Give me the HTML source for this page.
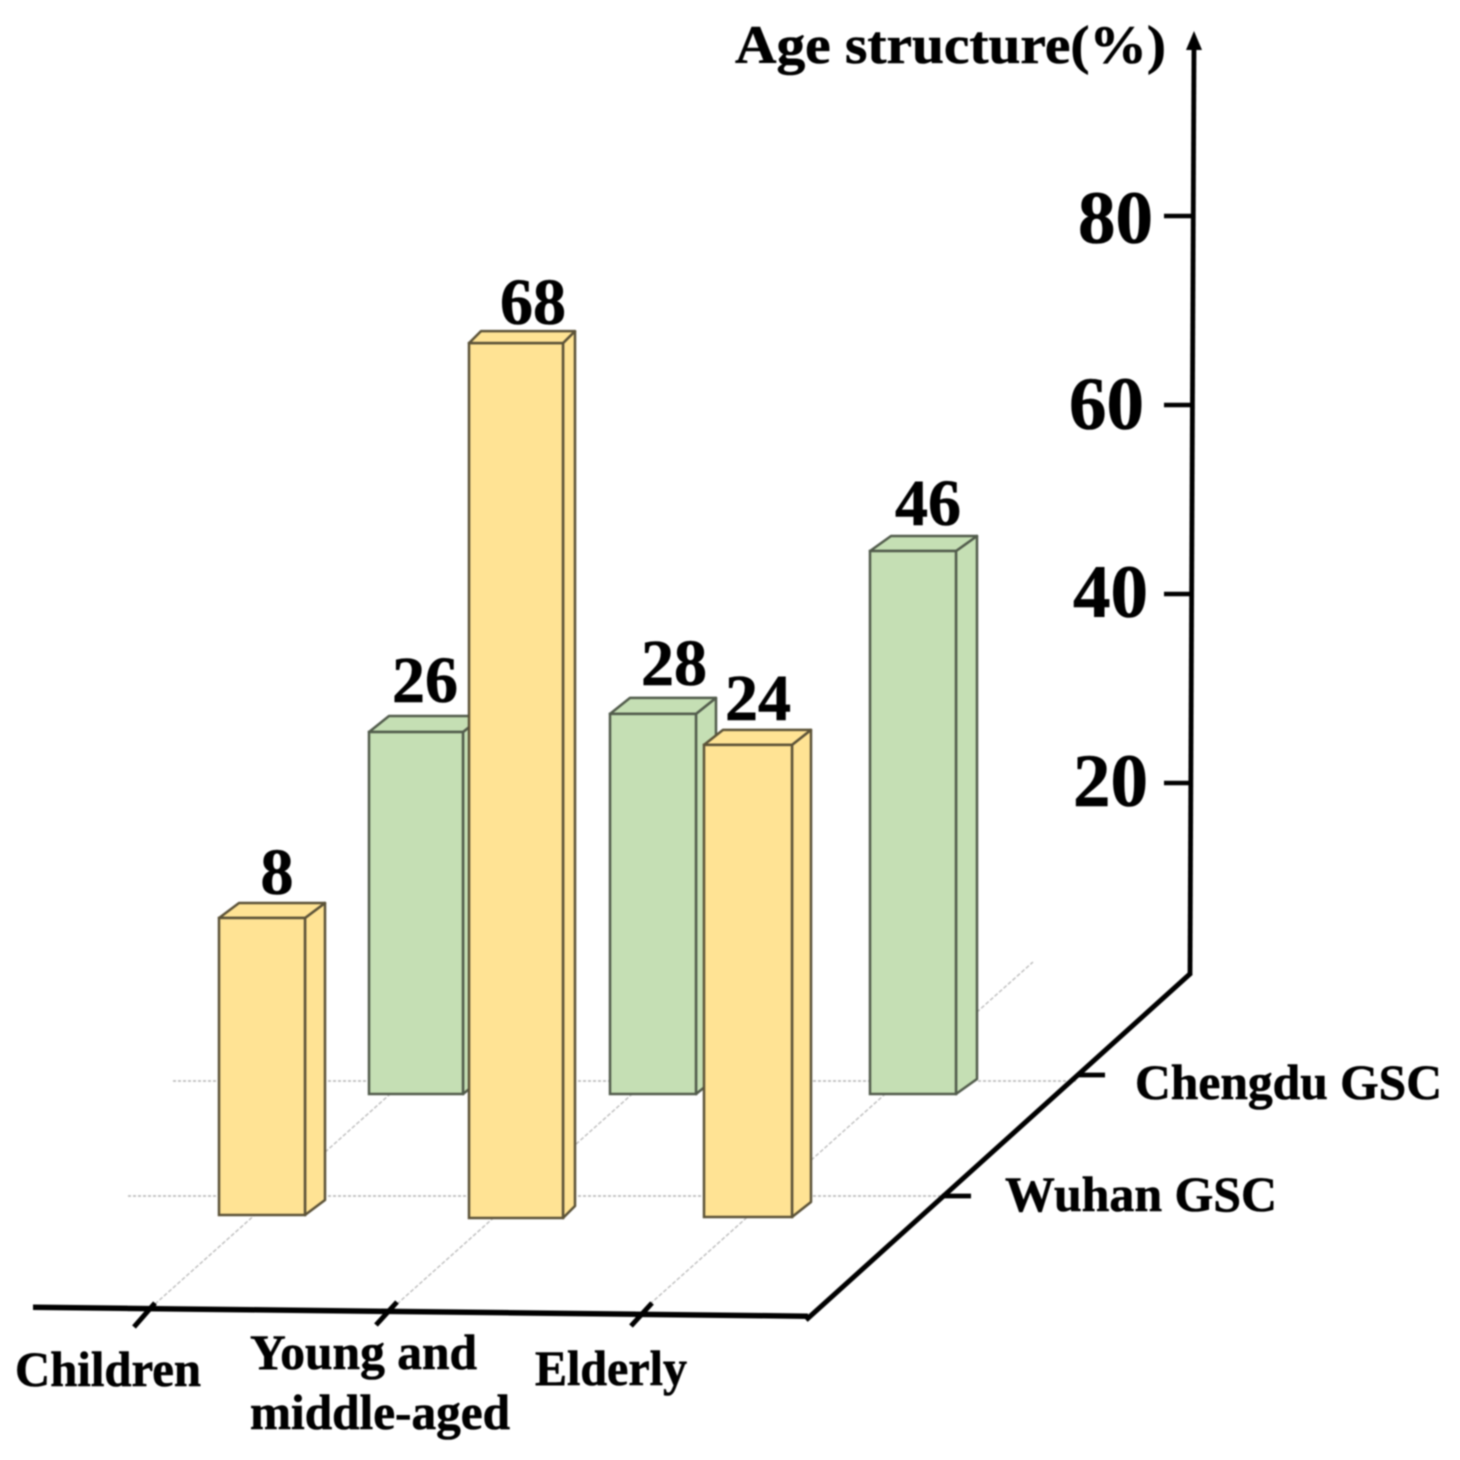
<!DOCTYPE html>
<html>
<head>
<meta charset="utf-8">
<title>Age structure chart</title>
<style>
html,body{margin:0;padding:0;background:#fff;width:1460px;height:1460px;overflow:hidden}
svg{display:block;filter:blur(0.7px)}
text{font-family:"Liberation Serif",serif;font-weight:bold;fill:#000;stroke:#000;stroke-width:0.6px}
</style>
</head>
<body>
<svg id="chart" xmlns="http://www.w3.org/2000/svg" width="1460" height="1460" viewBox="0 0 1460 1460">
  <rect x="0" y="0" width="1460" height="1460" fill="#fff"/>
  <g id="grid"></g>
  <g id="bars"></g>
  <g id="axes">
    <path d="M33 1304.5 L808 1313.5 L808 1319 L33 1310 Z" fill="#000"/>
    <line x1="806" y1="1320" x2="1191" y2="973" stroke="#000" stroke-width="5"/>
    <line x1="1190" y1="975" x2="1194" y2="42" stroke="#000" stroke-width="4.8"/>
    <path d="M1194 31 L1202 50 L1186 50 Z" fill="#000"/>
    <text x="735" y="63" font-size="54" textLength="431" lengthAdjust="spacingAndGlyphs">Age structure(%)</text>
    <line x1="1078" y1="1075" x2="1105" y2="1075" stroke="#000" stroke-width="4.8"/>
    <line x1="942" y1="1196" x2="971" y2="1196" stroke="#000" stroke-width="4.8"/>
    <text x="1135" y="1099" font-size="50" textLength="307" lengthAdjust="spacingAndGlyphs">Chengdu GSC</text>
    <text x="1005" y="1211" font-size="50" textLength="272" lengthAdjust="spacingAndGlyphs">Wuhan GSC</text>
    <line x1="134" y1="1327" x2="155" y2="1303" stroke="#000" stroke-width="5"/>
    <line x1="376" y1="1325" x2="397" y2="1302" stroke="#000" stroke-width="5"/>
    <line x1="631" y1="1326" x2="652" y2="1303" stroke="#000" stroke-width="5"/>
    <text x="15" y="1386" font-size="50" textLength="186" lengthAdjust="spacingAndGlyphs">Children</text>
    <text x="250" y="1369" font-size="50" textLength="227" lengthAdjust="spacingAndGlyphs">Young and</text>
    <text x="250" y="1429" font-size="50" textLength="260" lengthAdjust="spacingAndGlyphs">middle-aged</text>
    <text x="535" y="1385" font-size="50" textLength="152" lengthAdjust="spacingAndGlyphs">Elderly</text>
  </g>
</svg>
<script>
const categories = ['Children', 'Young and middle-aged', 'Elderly'];
const seriesNames = ['Chengdu GSC', 'Wuhan GSC'];
const chengduValues = [26, 28, 46];
const wuhanValues = [8, 68, 24];
const valueTicks = [20, 40, 60, 80];

const NS = 'http://www.w3.org/2000/svg';
const gridLayer = document.getElementById('grid');
const barLayer = document.getElementById('bars');
const axisLayer = document.getElementById('axes');

function make(tag, attrs, parent) {
  const el = document.createElementNS(NS, tag);
  for (const k in attrs) el.setAttribute(k, attrs[k]);
  parent.appendChild(el);
  return el;
}

/* value axis: 0 at the back corner, 9.45 px per percentage point */
function axisY(v) { return 972 - v * 9.45; }
function axisX(v) { return 1190 + (972 - axisY(v)) * 0.0043; }

/* bar heights on the receding floor planes */
function barHeight(seriesIndex, catIndex, v) {
  if (seriesIndex === 0) return 126.7 + 9.05 * v;
  return 220 + 9.63 * v + (catIndex === 2 ? 21 : 0);
}

/* placement of each bar on the floor */
function barPlacement(seriesIndex, catIndex) {
  if (seriesIndex === 0) {
    if (catIndex === 0) return {x: 369, w: 94, dx: 20, dy: 16, base: 1094, lx: 425, ly: 30};
    if (catIndex === 1) return {x: 610, w: 86, dx: 20, dy: 16, base: 1094, lx: 674, ly: 29};
    return {x: 870, w: 86, dx: 21, dy: 15, base: 1094, lx: 928, ly: 26};
  }
  if (catIndex === 0) return {x: 219, w: 86, dx: 20, dy: 15, base: 1215, lx: 277, ly: 24};
  if (catIndex === 1) return {x: 469, w: 94, dx: 12, dy: 12, base: 1218, lx: 533, ly: 19};
  return {x: 704, w: 88, dx: 19, dy: 15, base: 1217, lx: 758, ly: 25};
}

function drawBar(seriesIndex, catIndex, v) {
  const p = barPlacement(seriesIndex, catIndex);
  const fill = seriesIndex === 0 ? '#C5DFB4' : '#FFE394';
  const stroke = seriesIndex === 0 ? '#525c4c' : '#5c5338';
  const top = p.base - barHeight(seriesIndex, catIndex, v);
  const r = p.x + p.w;

  const g = make('g', {}, barLayer);
  
  

  const side = make('path', {
    d: `M${r} ${top} L${r + p.dx} ${top - p.dy} L${r + p.dx} ${p.base - p.dy} L${r} ${p.base} Z`,
    fill: fill, stroke: stroke, 'stroke-width': 2.5, 'stroke-linejoin': 'round'
  }, g);
  
  

  const cap = make('path', {
    d: `M${p.x} ${top} L${p.x + p.dx} ${top - p.dy} L${r + p.dx} ${top - p.dy} L${r} ${top} Z`,
    fill: fill, stroke: stroke, 'stroke-width': 2.5, 'stroke-linejoin': 'round'
  }, g);
  
  

  const front = make('rect', {
    x: p.x, y: top, width: p.w, height: p.base - top,
    fill: fill, stroke: stroke, 'stroke-width': 2.5
  }, g);
  
  
}

function drawBarLabel(seriesIndex, catIndex, v) {
  const p = barPlacement(seriesIndex, catIndex);
  const top = p.base - barHeight(seriesIndex, catIndex, v);
  const t = make('text', {x: p.lx, y: top - p.ly, 'font-size': 66, 'text-anchor': 'middle'}, barLayer);
  t.textContent = String(v);
  
  
}

/* floor grid */
const gridStyle = {stroke: '#b4b4b4', 'stroke-width': 1.6, 'stroke-dasharray': '3 2'};
const rowBack = make('line', Object.assign({x1: 173, y1: 1081, x2: 1078, y2: 1081}, gridStyle), gridLayer);


const rowFront = make('line', Object.assign({x1: 128, y1: 1196, x2: 942, y2: 1196}, gridStyle), gridLayer);


categories.forEach(function (name, i) {
  const startX = i === 0 ? 155 : i === 1 ? 397 : 650;
  const line = make('line', {
    x1: startX, y1: 1304, x2: startX + 383, y2: 962,
    stroke: '#bcbcbc', 'stroke-width': 1.4, 'stroke-dasharray': '4 2'
  }, gridLayer);
  
  
});

/* back series first, then front series so it overlaps */
chengduValues.forEach(function (v, i) { drawBar(0, i, v); });
wuhanValues.forEach(function (v, i) { drawBar(1, i, v); });
chengduValues.forEach(function (v, i) { drawBarLabel(0, i, v); });
wuhanValues.forEach(function (v, i) { drawBarLabel(1, i, v); });

/* value axis ticks */
valueTicks.forEach(function (v) {
  const y = axisY(v);
  const tick = make('line', {x1: 1164, y1: y, x2: axisX(v), y2: y, stroke: '#000', 'stroke-width': 4.6}, axisLayer);
  
  
  const shiftX = v === 80 ? 4 : v === 60 ? -5 : -1;
  const shiftY = v === 80 ? 27 : v === 60 ? 24 : 23;
  const label = make('text', {x: 1149 + shiftX, y: y + shiftY, 'font-size': 75, 'text-anchor': 'end'}, axisLayer);
  label.textContent = String(v);
  
  
});
</script>
</body>
</html>
